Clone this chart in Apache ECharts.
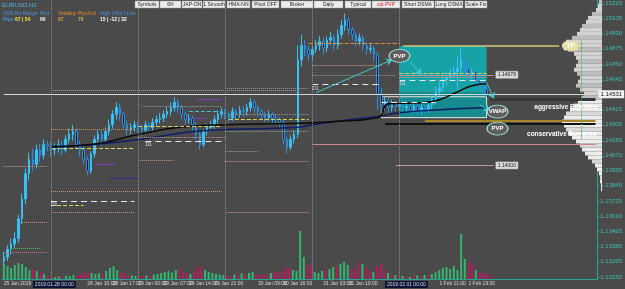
<!DOCTYPE html>
<html><head><meta charset="utf-8">
<script src="https://cdn.jsdelivr.net/npm/echarts@6/dist/echarts.min.js"></script>
<style>html,body{margin:0;padding:0;background:#4a4a4a}#c{width:625px;height:289px}</style>
</head><body><div id="c"></div>
<script>
// ---------- DATA ----------
const symbolName = 'EURUSD,H1';
// H1 candles [open, close, low, high]
const ohlc = [
[1.1327,1.1330,1.1324,1.1334],[1.1330,1.1336,1.1327,1.1339],[1.1336,1.1340,1.1332,1.1344],[1.1340,1.1344,1.1337,1.1349],
[1.1344,1.1359,1.1341,1.1362],[1.1359,1.1374,1.1355,1.1378],[1.1374,1.1393,1.1370,1.1397],[1.1393,1.1404,1.1388,1.1409],
[1.1404,1.1400,1.1395,1.1412],[1.1400,1.1411,1.1397,1.1415],[1.1411,1.1407,1.1402,1.1416],[1.1407,1.1415,1.1404,1.1419],
[1.1415,1.1414,1.1410,1.1418],[1.1414,1.1411,1.1406,1.1417],[1.1411,1.1413,1.1407,1.1416],[1.1413,1.1415,1.1409,1.1419],
[1.1415,1.1411,1.1407,1.1418],[1.1411,1.1419,1.1409,1.1422],[1.1419,1.1423,1.1416,1.1427],[1.1423,1.1425,1.1418,1.1430],
[1.1425,1.1415,1.1412,1.1427],[1.1415,1.1411,1.1406,1.1418],[1.1411,1.1404,1.1400,1.1413],[1.1404,1.1395,1.1392,1.1406],
[1.1395,1.1408,1.1393,1.1410],[1.1408,1.1419,1.1405,1.1422],[1.1419,1.1423,1.1415,1.1426],[1.1423,1.1419,1.1414,1.1426],
[1.1419,1.1425,1.1416,1.1428],[1.1425,1.1430,1.1422,1.1434],[1.1430,1.1438,1.1427,1.1441],[1.1438,1.1443,1.1434,1.1447],
[1.1443,1.1438,1.1433,1.1446],[1.1438,1.1430,1.1427,1.1440],[1.1430,1.1426,1.1422,1.1433],[1.1426,1.1428,1.1423,1.1431],
[1.1428,1.1430,1.1425,1.1433],[1.1430,1.1428,1.1424,1.1432],[1.1428,1.1426,1.1421,1.1430],[1.1426,1.1430,1.1423,1.1433],
[1.1430,1.1428,1.1425,1.1432],[1.1428,1.1432,1.1425,1.1435],[1.1432,1.1434,1.1429,1.1437],[1.1434,1.1435,1.1431,1.1439],
[1.1435,1.1438,1.1432,1.1441],[1.1438,1.1440,1.1435,1.1444],[1.1440,1.1443,1.1437,1.1447],[1.1443,1.1447,1.1440,1.1451],
[1.1447,1.1443,1.1439,1.1449],[1.1443,1.1438,1.1434,1.1445],[1.1438,1.1434,1.1430,1.1440],[1.1434,1.1435,1.1431,1.1438],
[1.1435,1.1430,1.1426,1.1437],[1.1430,1.1423,1.1419,1.1432],[1.1423,1.1415,1.1411,1.1425],[1.1415,1.1425,1.1413,1.1427],
[1.1425,1.1428,1.1422,1.1431],[1.1428,1.1430,1.1425,1.1433],[1.1430,1.1434,1.1427,1.1437],[1.1434,1.1438,1.1431,1.1441],
[1.1438,1.1440,1.1435,1.1443],[1.1440,1.1438,1.1434,1.1442],[1.1438,1.1435,1.1432,1.1440],[1.1435,1.1440,1.1433,1.1443],
[1.1440,1.1438,1.1434,1.1442],[1.1438,1.1441,1.1435,1.1444],[1.1441,1.1440,1.1436,1.1444],[1.1440,1.1443,1.1437,1.1446],
[1.1443,1.1447,1.1440,1.1450],[1.1447,1.1443,1.1439,1.1449],[1.1443,1.1440,1.1436,1.1445],[1.1440,1.1438,1.1434,1.1442],
[1.1438,1.1435,1.1432,1.1440],[1.1435,1.1438,1.1433,1.1441],[1.1438,1.1435,1.1431,1.1440],[1.1435,1.1434,1.1430,1.1438],
[1.1434,1.1432,1.1428,1.1436],[1.1432,1.1419,1.1415,1.1434],[1.1419,1.1413,1.1408,1.1421],[1.1413,1.1419,1.1411,1.1422],
[1.1419,1.1423,1.1416,1.1426],[1.1423,1.1479,1.1420,1.1490],[1.1479,1.1490,1.1474,1.1498],[1.1490,1.1487,1.1482,1.1494],
[1.1487,1.1483,1.1478,1.1490],[1.1483,1.1487,1.1479,1.1490],[1.1487,1.1490,1.1484,1.1494],[1.1490,1.1493,1.1486,1.1497],
[1.1493,1.1488,1.1483,1.1496],[1.1488,1.1494,1.1485,1.1497],[1.1494,1.1496,1.1490,1.1500],[1.1496,1.1490,1.1486,1.1498],
[1.1490,1.1498,1.1487,1.1502],[1.1498,1.1505,1.1495,1.1509],[1.1505,1.1509,1.1501,1.1514],[1.1509,1.1502,1.1498,1.1511],
[1.1502,1.1498,1.1494,1.1504],[1.1498,1.1493,1.1489,1.1500],[1.1493,1.1496,1.1490,1.1499],[1.1496,1.1490,1.1486,1.1498],
[1.1490,1.1487,1.1483,1.1492],[1.1487,1.1488,1.1484,1.1491],[1.1488,1.1483,1.1478,1.1490],[1.1483,1.1453,1.1441,1.1485],
[1.1453,1.1445,1.1440,1.1458],[1.1445,1.1448,1.1441,1.1451],[1.1448,1.1443,1.1439,1.1450],[1.1443,1.1446,1.1440,1.1449],
[1.1446,1.1444,1.1440,1.1448],[1.1444,1.1446,1.1441,1.1449],[1.1446,1.1443,1.1439,1.1448],[1.1443,1.1444,1.1440,1.1447],
[1.1444,1.1441,1.1438,1.1446],[1.1441,1.1444,1.1439,1.1447],[1.1444,1.1440,1.1437,1.1446],[1.1440,1.1443,1.1438,1.1446],
[1.1443,1.1441,1.1438,1.1445],[1.1441,1.1445,1.1439,1.1448],[1.1445,1.1449,1.1442,1.1452],[1.1449,1.1455,1.1446,1.1459],
[1.1455,1.1458,1.1452,1.1462],[1.1458,1.1464,1.1455,1.1468],[1.1464,1.1466,1.1460,1.1470],[1.1466,1.1468,1.1463,1.1472],
[1.1468,1.1470,1.1465,1.1474],[1.1470,1.1473,1.1455,1.1482],[1.1473,1.1479,1.1468,1.1488],[1.1479,1.1472,1.1468,1.1481],
[1.1472,1.1468,1.1464,1.1475],[1.1468,1.1470,1.1465,1.1473],[1.1470,1.1464,1.1461,1.1472],[1.1464,1.1462,1.1458,1.1466],
[1.1462,1.1457,1.1453,1.1464],[1.1457,1.14531,1.1451,1.1459]
];
// tick volume per candle
const volume = [
1500,1300,1100,1400,1600,1500,1200,900,1000,800,700,500,300,
150,200,250,300,350,300,400,350,500,700,650,600,500,550,600,800,1100,1300,900,700,500,400,350,300,
250,300,350,400,450,500,600,700,800,650,900,1000,700,600,500,800,1300,1100,900,700,600,500,450,400,
350,300,450,500,550,400,600,700,500,450,400,500,600,700,650,800,1200,1100,900,800,4800,2200,1500,1200,
700,600,800,900,1000,1200,1300,1500,1700,1400,1100,900,1800,1500,1200,800,700,1300,1600,900,600,500,400,350,
300,250,200,300,350,300,400,350,500,700,900,1100,1200,1000,1300,900,4500,2000,1700,1400,900,700,600,500,400
];
// moving averages [barIndex, price]
const longDSMA = [[13,1.14128],[25,1.14151],[37,1.14188],[50,1.14241],[61,1.14264],[80,1.14279],[85,1.14301],[95,1.14339],[103,1.14362],[109,1.14392],[120,1.14414],[133,1.14430]];
const shortDSMA = [[13,1.14136],[24,1.14151],[37,1.14226],[48,1.14279],[61,1.14301],[80,1.14309],[90,1.14324],[103,1.14354],[106,1.14460],[115,1.14467],[120,1.14490],[125,1.14550],[129,1.14595],[133,1.14610]];
// volume profile (top bin first), 70 bins over the price axis
const profile = [3,4,6,10,14,16,20,22,25,30,36,40,34,28,26,24,26,28,25,22,24,26,22,18,20,24,28,32,36,38,40,38,36,34,30,26,22,20,17,14,10,7,5,3,2,2,1,1,0,0,0,0,0,0,0,0,0,0,0,0,0,0,0,0,0,0,0,0,0,0];
// price axis tick labels
const yTicks = [1.15220,1.15105,1.14990,1.14875,1.14760,1.14645,1.14415,1.14300,1.14185,1.14070,1.13955,1.13840,1.13725,1.13610,1.13495,1.13380,1.13265,1.13150];
const bidPrice = 1.14531;
// time axis tick labels [barIndex, text, isBox]
const xTicks = [[0,'25 Jan 2019'],[8,'2019.01.28 00:00',1],[23,'28 Jan 10:00'],[30,'28 Jan 17:00'],[37,'29 Jan 00:00'],[44,'29 Jan 07:00'],[51,'29 Jan 14:00'],[58,'29 Jan 21:00'],[70,'30 Jan 09:00'],[77,'30 Jan 16:00'],[88,'31 Jan 03:00'],[95,'31 Jan 10:00'],[105,'2019.02.01 00:00',1],[120,'1 Feb 11:00'],[128,'1 Feb 19:00']];
// day separators (bar index)
const daySeparators = [13,37,61,85,109];
// horizontal levels [fromBar, toBar, price, style, tag]
const levels = [
[13,81,1.14558,'greyDot'],[61,84,1.14573,'greyDot'],
[0,12,1.13986,'salmonDot'],[13,60,1.13797,'salmonDot'],[13,36,1.13639,'salmonDot'],[61,84,1.13639,'salmonDot'],
[61,84,1.14023,'salmonDot'],[13,36,1.13722,'whiteDash','D1'],[13,22,1.13692,'yellowDash'],[5,12,1.13564,'salmonDot'],
[2,10,1.13368,'greenDot'],[0,12,1.13338,'pinkDot'],[61,70,1.14098,'greyDot'],[37,47,1.14031,'salmonDot'],
[29,37,1.13895,'navy'],[25,31,1.14000,'purple'],[13,36,1.14121,'yellowDash'],[39,60,1.14173,'whiteDash','D1'],
[53,60,1.14490,'purple'],[38,60,1.14437,'greyDot'],[51,59,1.14399,'cyanDash'],[51,56,1.14347,'purple'],
[62,84,1.14377,'greyDot'],[62,84,1.14339,'yellowDash'],[37,60,1.14286,'yellowDash'],[13,36,1.14264,'orangeDot'],
[37,61,1.14204,'salmonDot'],[61,84,1.14249,'greyDot'],[84,109,1.14919,'orangeDash'],[85,104,1.14753,'salmonDot'],
[85,108,1.14678,'greyDot'],[85,104,1.14603,'whiteDash','D1'],[85,163,1.14151,'pinkLine'],
[109,133,1.14693,'yellowDash'],[109,133,1.14663,'salmonDot'],[109,133,1.14640,'whiteDash','D1'],[104,119,1.14467,'whiteDash'],
[134,163,1.14490,'darkBand'],[116,163,1.14332,'gold'],[105,163,1.14309,'black']
];
const tpLevel = [110,153,1.14896];
const priceTags = [[109,135,1.14678,'1.14678'],[108,135,1.13993,'1.14000']];
// zones
const pvpZone = [109,133,1.14896,1.14543];
const buyZone = [109,133,1.14543,1.14354];
const frameZone = [104,133,1.14512,1.14354];
// annotations [bar, price, text]
const bubbles = [[109,1.14821,'PVP'],[136,1.14399,'VWAP'],[136,1.14271,'PVP']];
const notes = [[146,1.14430,'aggressive Buy area'],[144,1.14230,'conservative Buy area']];
const arrows = [[86,1.14543,107,1.14791],[112,1.14776,115,1.14678],[131,1.14452,134,1.14407],[133,1.14618,135,1.14498]];
const toolbar = ['Symbols','6N','JAP-ON','1.Smooth','HMA-NN','Pivot OFF','Broker','Daily','Typical','cpt PVP','Short DSMA','Long DSMA','Scale Fix'];
const infoHead = ['ADR','Ro Range','Rnd','Volatility','Pips/Vol','High | Mid | Low'];
const infoVals = ['Pips','67 | 54','60','67','76','15 | -12 | 32'];

// ---------- CATEGORIES ----------
const dayNames = ['28 Jan','29 Jan','30 Jan','31 Jan','1 Feb','4 Feb','5 Feb'];
const categories = [];
for (let i = 0; i < 164; i++) {
  let d, h;
  if (i < 13) { d = '25 Jan'; h = 11 + i; } else { const k = i - 13; d = dayNames[Math.floor(k / 24)]; h = k % 24; }
  categories.push(d + ' ' + String(h).padStart(2, '0') + ':00');
}

// ---------- STYLES ----------
const S = {
  greyDot:{color:'#9c9c9c',type:'dotted',width:1}, salmonDot:{color:'#c99686',type:'dotted',width:1},
  yellowDash:{color:'#d9d35e',type:'dashed',width:1}, whiteDash:{color:'#e8e8e8',type:[6,4],width:1},
  purple:{color:'#7b3fb8',type:'solid',width:1}, navy:{color:'#2c2c8c',type:'solid',width:1},
  cyanDash:{color:'#40c4d4',type:'dashed',width:1}, greenDot:{color:'#52c052',type:'dotted',width:1},
  pinkDot:{color:'#d474a4',type:'dotted',width:1}, orangeDot:{color:'#d98a4a',type:'dotted',width:1},
  orangeDash:{color:'#e09030',type:'dashed',width:1}, pinkLine:{color:'#c98a8e',type:'solid',width:1},
  darkBand:{color:'#363636',type:'solid',width:3}, gold:{color:'#a8862a',type:'solid',width:2},
  black:{color:'#111111',type:'solid',width:2}
};
const FONT = 'Liberation Sans';

const lineData = [];
levels.forEach(l => {
  const a = {coord:[l[0], l[2]], lineStyle:S[l[3]]};
  if (l[4]) a.label = {show:true, formatter:l[4], position:'insideStartBottom', distance:[0,1], color:'#e0e0e0', fontSize:5, fontFamily:FONT};
  lineData.push([a, {coord:[l[1], l[2]]}]);
});
daySeparators.forEach(i => lineData.push([{coord:[i, 1.15243], lineStyle:{color:'#8f8f8f',type:'dotted',width:1}}, {coord:[i, 1.13135]}]));
lineData.push([{coord:[159, 1.14941], lineStyle:{color:'#4cc04c',type:'dotted',width:1}}, {coord:[159, 1.14188]}]);
lineData.push([{coord:[0, bidPrice], lineStyle:{color:'#d6d6d6',type:'solid',width:1},
  label:{show:true, position:'end', distance:3, formatter:bidPrice.toFixed(5), backgroundColor:'#f2f2f2', color:'#111', fontSize:6, fontFamily:FONT, padding:[1,2]}}, {coord:[163, bidPrice]}]);
lineData.push([{coord:[tpLevel[0], tpLevel[2]], lineStyle:{color:'#d8c97a',type:'solid',width:1.5},
  label:{show:true, position:'end', distance:4, formatter:'TP', color:'#fff', fontWeight:'bold', fontSize:7, fontFamily:FONT, backgroundColor:'#e8e0a0', padding:[1,3], borderRadius:2}}, {coord:[tpLevel[1], tpLevel[2]]}]);
priceTags.forEach(t => lineData.push([{coord:[t[0], t[2]], lineStyle:{color:'#b89890',type:'solid',width:1},
  label:{show:true, position:'end', distance:2, formatter:t[3], color:'#222', fontSize:5, fontFamily:FONT, backgroundColor:'#d8d8d8', borderColor:'#888', borderWidth:0.5, padding:[1,2]}}, {coord:[t[1], t[2]]}]));
arrows.forEach(a => lineData.push([{coord:[a[0], a[1]], symbol:'none', lineStyle:{color:'#46cad6',type:'solid',width:1}}, {coord:[a[2], a[3]], symbol:'arrow', symbolSize:6}]));

const pointData = [];
bubbles.forEach(b => pointData.push({coord:[b[0], b[1]], symbol:'circle', symbolSize:[21,13],
  itemStyle:{color:'#5e5e5e', borderColor:'#a6e6e2', borderWidth:1},
  label:{show:true, formatter:b[2], position:'inside', color:'#fff', fontWeight:'bold', fontSize:6, fontFamily:FONT}}));
notes.forEach(n => pointData.push({coord:[n[0], n[1]], symbol:'rect', symbolSize:1, itemStyle:{color:'rgba(0,0,0,0)'},
  label:{show:true, formatter:n[2], position:'right', distance:0, color:'#fff', fontWeight:'bold', fontSize:6.5, fontFamily:FONT}}));

// ---------- GRAPHIC (toolbar + info) ----------
const tbX = [[135,159],[160,181],[182,202],[203,225],[227,250],[252,279],[281,313],[314,343],[345,371],[372,400],[402,434],[435,463],[465,487]];
const graphics = [];
toolbar.forEach((t, k) => {
  const [x0, x1] = tbX[k];
  graphics.push({type:'rect', shape:{x:x0, y:1, width:x1-x0, height:7}, style:{fill:'#ededed', stroke:'#9a9a9a', lineWidth:0.5}, z:100});
  graphics.push({type:'text', x:(x0+x1)/2, y:4.5, style:{text:t, fill:t==='cpt PVP'?'#e02020':'#222', font:'5px '+FONT, textAlign:'center', textVerticalAlign:'middle'}, z:101});
});
graphics.push({type:'text', x:2, y:2, style:{text:symbolName, fill:'#55b0e2', font:'6px '+FONT}, z:101});
const infoX = [3,15,40,58,78,100];
const headCol = ['#4a90e0','#4a90e0','#4a90e0','#e08a30','#e08a30','#4a90e0'];
const valCol = ['#4a90e0','#f0e040','#ffffff','#e8a030','#c8b060','#ffffff'];
infoHead.forEach((t, k) => graphics.push({type:'text', x:infoX[k], y:11, style:{text:t, fill:headCol[k], font:'5px '+FONT}, z:101}));
infoVals.forEach((t, k) => graphics.push({type:'text', x:infoX[k], y:17, style:{text:t, fill:valCol[k], font:'bold 5px '+FONT}, z:101}));

// ---------- CHART ----------
const tickMap = {}; xTicks.forEach(t => tickMap[t[0]] = t);
const chart = echarts.init(document.getElementById('c'), null, {renderer:'canvas'});
chart.setOption({
  backgroundColor:'#4a4a4a',
  animation:false,
  textStyle:{fontFamily:FONT},
  grid:[
    {left:2, right:23, top:0, bottom:10},
    {left:2, right:23, top:229, bottom:10},
    {left:560, right:23, top:0, bottom:10}
  ],
  xAxis:[
    {type:'category', gridIndex:0, data:categories, boundaryGap:true,
     axisLine:{show:true, lineStyle:{color:'#26a597', width:1}}, axisTick:{show:false}, splitLine:{show:false},
     axisLabel:{interval:(i)=>!!tickMap[i], formatter:(v,i)=>{const t=tickMap[i]; if(!t) return ''; return t[2]?'{b|'+t[1]+'}':t[1];},
       color:'#dcdcdc', fontSize:5, margin:2, align:'left', fontFamily:FONT,
       rich:{b:{backgroundColor:'#0b1538', color:'#dcdcdc', fontSize:5, padding:[1,2], fontFamily:FONT}}}},
    {type:'category', gridIndex:1, data:categories, boundaryGap:true, show:false},
    {type:'value', gridIndex:2, min:0, max:42, inverse:true, show:false}
  ],
  yAxis:[
    {type:'value', gridIndex:0, position:'right', min:1.13135, max:1.15243, scale:true, splitLine:{show:false},
     axisLine:{show:true, lineStyle:{color:'#26a597'}}, axisTick:{show:true, length:2, customValues:yTicks, lineStyle:{color:'#26a597'}},
     axisLabel:{customValues:yTicks, formatter:(v)=>v.toFixed(5), color:'#3cc0b2', fontSize:6, margin:3, fontFamily:FONT}},
    {type:'value', gridIndex:1, min:0, max:5000, show:false},
    {type:'category', gridIndex:2, data:profile.map((v,k)=>k), inverse:true, show:false}
  ],
  graphic:graphics,
  series:[
    {type:'bar', xAxisIndex:2, yAxisIndex:2, data:profile, barCategoryGap:'0%', z:1, silent:true,
     itemStyle:{color:(p)=>p.dataIndex<25?(p.dataIndex%3===0?'#bdbdbd':'#d2d2d2'):(p.dataIndex%4===0?'#d8d8d8':'#ececec')}},
    {type:'line', xAxisIndex:0, yAxisIndex:0, data:[], z:1, silent:true,
     markArea:{silent:true, data:[
       [{coord:[pvpZone[0], pvpZone[2]], itemStyle:{color:'#17a3a5'}}, {coord:[pvpZone[1], pvpZone[3]]}],
       [{coord:[buyZone[0], buyZone[2]], itemStyle:{color:'#168a8d'}}, {coord:[buyZone[1], buyZone[3]]}]
     ]}},
    {type:'line', xAxisIndex:0, yAxisIndex:0, data:[], z:2, silent:true,
     markArea:{silent:true, data:[[{coord:[frameZone[0], frameZone[2]], itemStyle:{color:'rgba(0,0,0,0)', borderColor:'#e6e6e6', borderWidth:1}}, {coord:[frameZone[1], frameZone[3]]}]]},
     markLine:{silent:true, symbol:['none','none'], animation:false, label:{show:false}, data:lineData}},
    {type:'bar', xAxisIndex:1, yAxisIndex:1, data:volume, barWidth:2, z:2,
     itemStyle:{color:(p)=>{const c=ohlc[p.dataIndex]; return c[1]>=c[0]?'#34b56f':'#b51c5e';}}},
    {type:'candlestick', xAxisIndex:0, yAxisIndex:0, data:ohlc, barWidth:2, z:3,
     itemStyle:{color:'#38c0f4', color0:'#0e1a33', borderColor:'#38c0f4', borderColor0:'#2a8fe0', borderWidth:1}},
    {type:'line', xAxisIndex:0, yAxisIndex:0, data:longDSMA, smooth:true, showSymbol:false, z:4, lineStyle:{color:'#0d1d66', width:1.5}},
    {type:'line', xAxisIndex:0, yAxisIndex:0, data:shortDSMA, smooth:true, showSymbol:false, z:4, lineStyle:{color:'#0a0a0a', width:1.5}},
    {type:'line', xAxisIndex:0, yAxisIndex:0, data:[], z:6, silent:true, markPoint:{silent:true, data:pointData}}
  ]
});
</script></body></html>
